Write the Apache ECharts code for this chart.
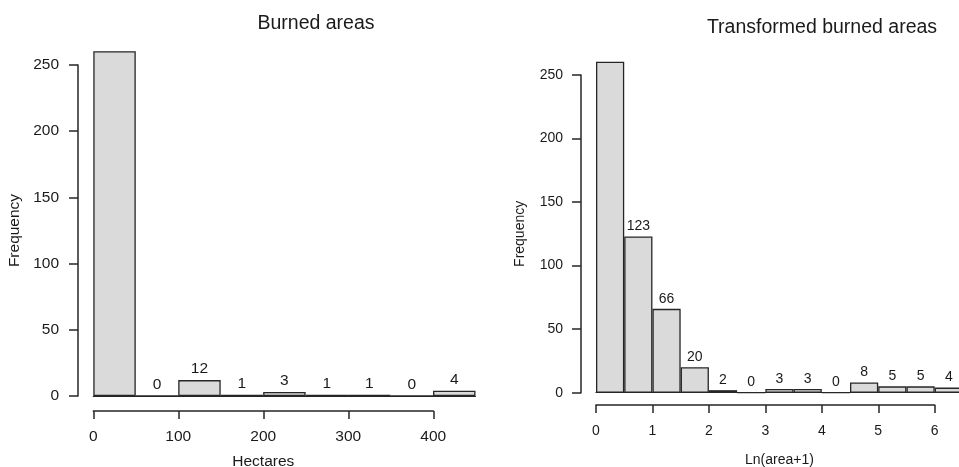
<!DOCTYPE html>
<html>
<head>
<meta charset="utf-8">
<script src="https://cdn.jsdelivr.net/npm/echarts@6/dist/echarts.min.js"></script>
<style>
html,body{margin:0;padding:0;background:#fff;}
#chart{width:959px;height:467px;}
</style>
</head>
<body>
<div id="chart"></div>
<script>
// ---- data ----
var leftTitle = 'Burned areas';
var rightTitle = 'Transformed burned areas';
var leftBins = ['0-50','50-100','100-150','150-200','200-250','250-300','300-350','350-400','400-450'];
var leftCounts = [493, 0, 12, 1, 3, 1, 1, 0, 4];
var rightBins = ['0-0.5','0.5-1','1-1.5','1.5-2','2-2.5','2.5-3','3-3.5','3.5-4','4-4.5','4.5-5','5-5.5','5.5-6','6-6.5'];
var rightCounts = [276, 123, 66, 20, 2, 0, 3, 3, 0, 8, 5, 5, 4];
var yTicks = [0, 50, 100, 150, 200, 250];
var leftXTicks = [0, 100, 200, 300, 400];
var rightXTicks = [0, 1, 2, 3, 4, 5, 6];

var FONT = 'Liberation Sans, Arial, Helvetica, sans-serif';
var TXT = '#1a1a1a';
var LINE = '#262626';
var FILL = '#dadada';
var AXW = 1.5;

function barData(counts){
  return counts.map(function(v, i){
    // tallest (first) bin runs off the top of the plot; its count label falls outside
    return i === 0 ? {value: v, label: {show: false}} : v;
  });
}

var chart = echarts.init(document.getElementById('chart'), null, {renderer: 'canvas'});
var G = {outerBoundsMode: 'none', containLabel: false};
function grid(o){ var r = {}; for (var k in G) r[k] = G[k]; for (var k2 in o) r[k2] = o[k2]; return r; }
var option = {
  animation: false,
  backgroundColor: '#ffffff',
  title: [
    {text: leftTitle, left: 311, top: 9, textAlign: 'center',
     textStyle: {fontFamily: FONT, fontWeight: 'normal', fontSize: 19.5, color: TXT}},
    {text: rightTitle, left: 817, top: 13, textAlign: 'center',
     textStyle: {fontFamily: FONT, fontWeight: 'normal', fontSize: 19.5, color: TXT}}
  ],
  grid: [
    // 0: left bars (x 0..450, y 0..260)
    grid({left: 93.3, width: 382.2, top: 51.8, bottom: 71}),
    // 1: left y-axis display (0..250)
    grid({left: 78, width: 1, top: 65, bottom: 71}),
    // 2: left x-axis display (0..400)
    grid({left: 93.3, width: 340, top: 400, bottom: 56}),
    // 3: right bars (x 0..6.5, y 0..260)
    grid({left: 596, right: -3.9, top: 62.3, bottom: 74.3}),
    // 4: right y-axis display
    grid({left: 581, width: 1, top: 75, bottom: 74.3}),
    // 5: right x-axis display (0..6)
    grid({left: 596, width: 338.7, top: 395, bottom: 62})
  ],
  xAxis: [
    {gridIndex: 0, type: 'category', data: leftBins, boundaryGap: true,
     axisLine: {show: true, onZero: false, lineStyle: {color: LINE, width: 1.2}},
     axisTick: {show: false}, axisLabel: {show: false}, splitLine: {show: false}},
    {gridIndex: 1, type: 'value', show: false},
    {gridIndex: 2, type: 'value', min: 0, max: 400, interval: 100, position: 'bottom',
     name: 'Hectares', nameLocation: 'middle', nameGap: 43,
     nameTextStyle: {fontFamily: FONT, fontSize: 15.5, color: TXT},
     axisLine: {show: true, onZero: false, lineStyle: {color: LINE, width: AXW}},
     axisTick: {show: true, inside: false, length: 8, lineStyle: {color: LINE, width: AXW}},
     axisLabel: {show: true, margin: 18, fontFamily: FONT, fontSize: 15.5, color: TXT,
       formatter: function(v){ return leftXTicks.indexOf(v) >= 0 ? String(v) : ''; }},
     splitLine: {show: false}},
    {gridIndex: 3, type: 'category', data: rightBins, boundaryGap: true,
     name: 'Ln(area+1)', nameLocation: 'middle', nameGap: 60,
     nameTextStyle: {fontFamily: FONT, fontSize: 14, color: TXT},
     axisLine: {show: true, onZero: false, lineStyle: {color: LINE, width: 1.2}},
     axisTick: {show: false}, axisLabel: {show: false}, splitLine: {show: false}},
    {gridIndex: 4, type: 'value', show: false},
    {gridIndex: 5, type: 'value', min: 0, max: 6, interval: 1, position: 'bottom',
     axisLine: {show: true, onZero: false, lineStyle: {color: LINE, width: AXW}},
     axisTick: {show: true, inside: false, length: 8, lineStyle: {color: LINE, width: AXW}},
     axisLabel: {show: true, margin: 19, fontFamily: FONT, fontSize: 14, color: TXT,
       formatter: function(v){ return rightXTicks.indexOf(v) >= 0 ? String(v) : ''; }},
     splitLine: {show: false}}
  ],
  yAxis: [
    {gridIndex: 0, type: 'value', min: 0, max: 260, show: false},
    {gridIndex: 1, type: 'value', min: 0, max: 250, interval: 50,
     name: 'Frequency', nameLocation: 'middle', nameRotate: 90, nameGap: 55,
     nameTextStyle: {fontFamily: FONT, fontSize: 15.5, color: TXT},
     axisLine: {show: true, onZero: false, lineStyle: {color: LINE, width: AXW}},
     axisTick: {show: true, inside: false, length: 9, lineStyle: {color: LINE, width: AXW}},
     axisLabel: {show: true, margin: 19, fontFamily: FONT, fontSize: 15.5, color: TXT,
       formatter: function(v){ return yTicks.indexOf(v) >= 0 ? String(v) : ''; }},
     splitLine: {show: false}},
    {gridIndex: 2, type: 'value', show: false},
    {gridIndex: 3, type: 'value', min: 0, max: 260, show: false},
    {gridIndex: 4, type: 'value', min: 0, max: 250, interval: 50,
     name: 'Frequency', nameLocation: 'middle', nameRotate: 90, nameGap: 54,
     nameTextStyle: {fontFamily: FONT, fontSize: 14, color: TXT},
     axisLine: {show: true, onZero: false, lineStyle: {color: LINE, width: AXW}},
     axisTick: {show: true, inside: false, length: 9, lineStyle: {color: LINE, width: AXW}},
     axisLabel: {show: true, margin: 18, fontFamily: FONT, fontSize: 14, color: TXT,
       formatter: function(v){ return yTicks.indexOf(v) >= 0 ? String(v) : ''; }},
     splitLine: {show: false}},
    {gridIndex: 5, type: 'value', show: false}
  ],
  series: [
    {type: 'bar', xAxisIndex: 0, yAxisIndex: 0, data: barData(leftCounts),
     barWidth: '100%', barCategoryGap: '0%', clip: true,
     itemStyle: {color: FILL, borderColor: LINE, borderWidth: 1.3},
     label: {show: true, position: 'top', distance: 3, fontFamily: FONT, fontSize: 15.5, color: TXT}},
    {type: 'bar', xAxisIndex: 3, yAxisIndex: 3, data: barData(rightCounts),
     barWidth: '100%', barCategoryGap: '0%', clip: true,
     itemStyle: {color: FILL, borderColor: LINE, borderWidth: 1.3},
     label: {show: true, position: 'top', distance: 3, fontFamily: FONT, fontSize: 14, color: TXT}}
  ]
};
chart.setOption(option);
</script>
</body>
</html>
